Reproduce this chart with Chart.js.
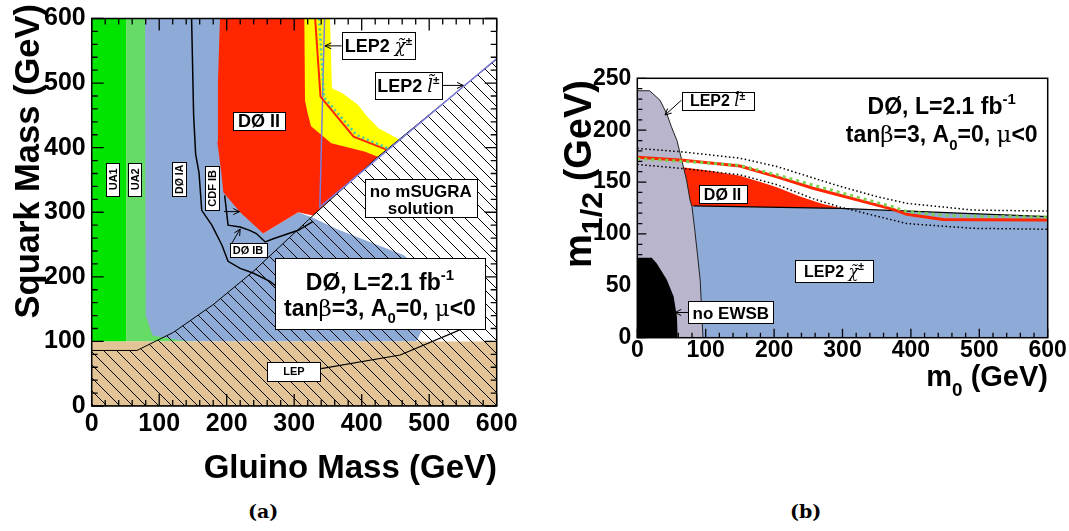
<!DOCTYPE html>
<html>
<head>
<meta charset="utf-8">
<script src="https://cdn.jsdelivr.net/npm/chart.js@4.4.1/dist/chart.umd.min.js"></script>
<style>
  body { margin: 0; background: #fff; width: 1069px; height: 531px; position: relative; overflow: hidden; }
  canvas { position: absolute; top: 0; }
  #ca { left: 0; }
  #cb { left: 540px; }
  .cap { position: absolute; top: 500px; font: bold 19px "DejaVu Serif", "Liberation Serif", serif; }
</style>
</head>
<body>
<canvas id="ca" width="530" height="490"></canvas>
<canvas id="cb" width="529" height="490"></canvas>
<div class="cap" style="left:248px">(a)</div>
<div class="cap" style="left:790px">(b)</div>
<script>
// ---- panel (a): squark vs gluino mass, regions as [gluino, squark] GeV ----
const lepBand = [[0, 0], [600, 0], [600, 100], [0, 100]];
const ua1Band = [[0, 100], [51, 100], [51, 600], [0, 600]];
const ua2Band = [[51, 100], [150, 100], [150, 600], [51, 600]];
const tevIRegion = [[79, 600], [200, 600], [200, 330], [254, 267], [306, 300], [327, 292], [363, 274], [412, 254],
  [462, 234], [490, 210], [500, 170], [495, 130], [481, 100], [150, 100], [130, 102], [90, 109], [80, 140]];
const d0IIRegion = [[190, 600], [331, 600], [339, 479], [388, 417], [437, 397], [422, 384], [328, 295], [306, 300],
  [254, 267], [220, 300], [195, 331], [192, 361], [186, 410], [187, 500]];
const expBandA = [[315, 600], [353, 600], [356, 492], [372, 484], [394, 467], [409, 447], [425, 430], [455, 413],
  [424, 386], [404, 394], [355, 407], [325, 433], [320, 453], [316, 473]];
const noSugraHatch = [[0, 0], [600, 0], [600, 537], [422, 384], [328, 295], [239, 208], [180, 157], [121, 114], [67, 86], [0, 86]];
const d0IALine = [[148, 600], [151, 450], [154, 390], [159, 361], [163, 303], [178, 280], [193, 249], [202, 224],
  [220, 213], [239, 206], [264, 193], [274, 185]];
const d0IBLine = [[197, 326], [202, 280], [220, 277], [234, 272], [244, 267], [257, 254], [269, 259], [306, 272], [328, 286]];
const lepLine = [[340, 58], [457, 79], [541, 116], [565, 128]];
const lep2LineA = [[345, 600], [338, 308], [600, 538]];
const obsA = [[331, 600], [339, 479], [388, 417], [437, 397]];
const expA = [[337, 600], [344, 478], [392, 420], [441, 398]];

// ---- panel (b): m1/2 vs m0, [m0, m1/2] GeV ----
const charginoRegion = [[0, 0], [0, 127], [82, 127], [296, 124.7], [600, 116.6], [600, 0]];
const d0IIRegionB = [[60, 163], [69, 164], [106, 161], [150, 156], [180, 150], [204, 145], [238, 136], [270, 129],
  [300, 124.5], [82, 127], [60, 127]];
const sleptonRegion = [[0, 0], [0, 238], [18, 238], [33, 229], [43, 216], [50, 203], [58, 190], [65, 171], [72, 152],
  [77, 133], [80, 126], [84, 104], [88, 80], [92, 55], [96, 0]];
const noEwsbRegion = [[0, 0], [0, 77], [21, 77], [28, 72], [43, 56], [53, 40], [58, 20], [59, 0]];
const charginoEdge = [[82, 127], [296, 124.7], [600, 116.6]];
const sigDownB = [[0, 167], [67, 163], [150, 157], [204, 147.5], [257, 134], [296, 126], [394, 110], [491, 105.4], [600, 104.5]];
const sigUpB = [[0, 182.5], [67, 179], [150, 173], [204, 165], [257, 154], [296, 146], [350, 136], [394, 129.5], [491, 123], [600, 122]];
const obsB = [[0, 174], [67, 171], [150, 165.5], [204, 155], [257, 144], [296, 137.3], [374, 123.7], [394, 119], [447, 114], [491, 113.7], [600, 113.4]];
const expB = [[0, 172.5], [67, 170], [150, 166], [204, 157], [257, 147], [296, 140], [374, 126], [394, 121.6], [447, 118], [491, 117], [600, 116.4]];

const SANS = '"Liberation Sans", Arial, Helvetica, sans-serif';
const SERIF = '"DejaVu Serif", "Liberation Serif", serif';

function pts(a) { return a.map(([x, y]) => ({ x, y })); }

function area(points, color, extra) {
  return Object.assign({
    type: 'line', data: pts(points), fill: 'shape', backgroundColor: color,
    borderColor: 'rgba(0,0,0,0)', borderWidth: 0, pointRadius: 0, tension: 0
  }, extra);
}

function curve(points, color, width, dash) {
  return {
    type: 'line', data: pts(points), fill: false, borderColor: color, borderWidth: width,
    borderDash: dash || [], pointRadius: 0, tension: 0
  };
}

// first entry ends up at the bottom
function stack(list) {
  list.forEach((d, i) => { d.order = list.length - i; });
  return list;
}

function hatch(ctx) {
  const s = 13, c = document.createElement('canvas');
  c.width = c.height = s;
  const g = c.getContext('2d');
  g.strokeStyle = '#000';
  g.lineWidth = 1;
  g.beginPath();
  g.moveTo(-1, -1); g.lineTo(s + 1, s + 1);
  g.moveTo(-1, s - 1); g.lineTo(1, s + 1);
  g.moveTo(s - 1, -1); g.lineTo(s + 1, 1);
  g.stroke();
  return ctx.createPattern(c, 'repeat');
}

function segFont(kind, size) {
  if (kind === 'sup' || kind === 'sub') return `bold ${size * 0.65}px ${SANS}`;
  if (kind === 'subL') return `bold ${size * 0.8}px ${SANS}`;
  if (kind === 'g') return `${size}px ${SERIF}`;
  if (kind === 'gi') return `italic ${size}px ${SERIF}`;
  return `bold ${size}px ${SANS}`;
}

// y is the middle of the capitals
function drawRich(ctx, segs, x, y, size, align) {
  let w = 0;
  const parts = segs.map(([t, k]) => {
    ctx.font = segFont(k, size);
    const m = ctx.measureText(t).width;
    w += m;
    return { t, k, m };
  });
  let cx = align === 'left' ? x : align === 'right' ? x - w : x - w / 2;
  const base = y + size * 0.36;
  ctx.textAlign = 'left';
  ctx.textBaseline = 'alphabetic';
  ctx.fillStyle = '#000';
  for (const p of parts) {
    ctx.font = segFont(p.k, size);
    let dy = 0;
    if (p.k === 'sup') dy = -size * 0.42;
    if (p.k === 'sub') dy = size * 0.32;
    if (p.k === 'subL') dy = size * 0.3;
    ctx.fillText(p.t, cx, base + dy);
    cx += p.m;
  }
}

function seg(ctx, x1, y1, x2, y2) {
  ctx.beginPath(); ctx.moveTo(x1, y1); ctx.lineTo(x2, y2); ctx.stroke();
}

// frame, inward ticks, boxes, arrows and titles; cfg kept in the closure
function decor(cfg) {
  return {
    id: 'decor',
    afterDraw(chart) {
      const { ctx, chartArea: a, scales: { x, y } } = chart;
      const px = v => x.getPixelForValue(v), py = v => y.getPixelForValue(v);
      const t = cfg.marks;
      ctx.save();
      ctx.setLineDash([]);
      ctx.globalAlpha = 1;
      ctx.strokeStyle = '#000';
      ctx.lineWidth = 1.3;
      ctx.beginPath();
      for (let i = 0; i <= 600 / t.dx; i++) {
        const v = i * t.dx;
        const len = v % t.dxMajor === 0 ? t.big : t.small;
        const p = px(v);
        ctx.moveTo(p, a.bottom); ctx.lineTo(p, a.bottom - len);
        if (t.allSides) { ctx.moveTo(p, a.top); ctx.lineTo(p, a.top + len); }
      }
      for (let i = 0; i <= t.ymax / t.dy; i++) {
        const v = i * t.dy;
        const len = v % t.dyMajor === 0 ? t.big : t.small;
        const p = py(v);
        ctx.moveTo(a.left, p); ctx.lineTo(a.left + len, p);
        if (t.allSides) { ctx.moveTo(a.right, p); ctx.lineTo(a.right - len, p); }
      }
      ctx.stroke();
      ctx.lineWidth = 1.5;
      ctx.strokeRect(a.left, a.top, a.right - a.left, a.bottom - a.top);

      ctx.lineWidth = 1;
      for (const [x1, y1, x2, y2] of cfg.arrows) {
        const X1 = px(x1), Y1 = py(y1), X2 = px(x2), Y2 = py(y2);
        seg(ctx, X1, Y1, X2, Y2);
        const ang = Math.atan2(Y2 - Y1, X2 - X1);
        for (const s of [-0.45, 0.45]) {
          seg(ctx, X2, Y2, X2 - 7 * Math.cos(ang + s), Y2 - 7 * Math.sin(ang + s));
        }
      }

      for (const b of cfg.boxes) {
        const cx = px(b.x), cy = py(b.y);
        const bx = Math.round(cx - b.w / 2) + 0.5, by = Math.round(cy - b.h / 2) + 0.5;
        ctx.fillStyle = '#fff';
        ctx.fillRect(bx, by, b.w, b.h);
        ctx.strokeStyle = '#000';
        ctx.lineWidth = 1;
        ctx.strokeRect(bx, by, b.w, b.h);
        ctx.save();
        ctx.translate(cx, cy);
        if (b.rot) ctx.rotate(-Math.PI / 2);
        for (const l of b.lines) drawRich(ctx, l.segs, 0, l.dy || 0, b.size, 'center');
        ctx.restore();
      }

      for (const l of cfg.texts) drawRich(ctx, l.segs, px(l.x), py(l.y), l.size, 'center');

      for (const l of cfg.titles) {
        ctx.save();
        ctx.translate(l.x, l.y);
        if (l.rot) ctx.rotate(-Math.PI / 2);
        drawRich(ctx, l.segs, 0, 0, l.size, 'right');
        ctx.restore();
      }
      ctx.restore();
    }
  };
}

function axes(o) {
  const font = { family: SANS, weight: 'bold', size: o.tickSize, lineHeight: 1 };
  return {
    x: {
      type: 'linear', min: 0, max: 600,
      afterFit: s => { s.height = o.xh; },
      ticks: { stepSize: 100, font, color: '#000', padding: o.xpad, maxRotation: 0, autoSkip: false },
      grid: { display: false, drawTicks: false }, border: { display: false }
    },
    y: {
      type: 'linear', min: 0, max: o.ymax,
      afterFit: s => { s.width = o.yw; },
      ticks: { stepSize: o.ystep, font, color: '#000', padding: o.ypad, autoSkip: false },
      grid: { display: false, drawTicks: false }, border: { display: false }
    }
  };
}

function makeChart(id, datasets, scales, padding, deco) {
  return new Chart(document.getElementById(id), {
    type: 'line',
    data: { datasets },
    options: {
      responsive: false, animation: false, devicePixelRatio: 1, events: [],
      layout: { padding },
      scales,
      plugins: { legend: { display: false }, tooltip: { enabled: false } }
    },
    plugins: [decor(deco)]
  });
}

const ctxA = document.getElementById('ca').getContext('2d');

makeChart('ca', stack([
  area(ua1Band, '#00e400'),
  area(ua2Band, '#66dc66'),
  area(tevIRegion, '#8eabd8'),
  area(d0IIRegion, '#ff2600'),
  area(expBandA, '#ffff00'),
  area(lepBand, '#e2c496'),
  area(noSugraHatch, hatch(ctxA), { borderColor: '#000', borderWidth: 1 }),
  curve(d0IALine, '#000', 1.5),
  curve(d0IBLine, '#000', 1.5),
  curve(lepLine, '#000', 1.2),
  curve(lep2LineA, '#7b7bdc', 1.5),
  curve(obsA, '#ff2600', 2),
  curve(expA, '#44c8a8', 2.5, [2, 3])
]), axes({ tickSize: 25, xh: 84, yw: 91.7, xpad: 6, ypad: 6, ymax: 600, ystep: 100 }),
{ left: 0, top: 13.5, right: 33.3, bottom: 0 },
{
  marks: { dx: 20, dxMajor: 100, dy: 20, dyMajor: 100, ymax: 600, big: 12, small: 6, allSides: true },
  arrows: [[370.4, 557.6, 345.6, 557.6], [518.5, 496.4, 550.5, 496.4], [196, 301, 219, 301], [207, 251, 220, 274]],
  boxes: [
    { x: 31, y: 351, w: 13, h: 33, rot: true, size: 11, lines: [{ segs: [['UA1']] }] },
    { x: 64, y: 351, w: 13, h: 33, rot: true, size: 11, lines: [{ segs: [['UA2']] }] },
    { x: 130, y: 351, w: 14, h: 34, rot: true, size: 10.5, lines: [{ segs: [['DØ IA']] }] },
    { x: 178, y: 337, w: 14, h: 44, rot: true, size: 11, lines: [{ segs: [['CDF IB']] }] },
    { x: 231.6, y: 241, w: 37, h: 14, size: 11, lines: [{ segs: [['DØ IB']] }] },
    { x: 248, y: 441.6, w: 52, h: 18, size: 18, lines: [{ segs: [['DØ II']] }] },
    { x: 424.7, y: 557.6, w: 73, h: 27, size: 18, lines: [{ segs: [['LEP2 '], ['χ̃', 'gi'], ['±', 'sup']] }] },
    { x: 469, y: 496.4, w: 67, h: 27, size: 18, lines: [{ segs: [['LEP2 '], ['l̃', 'gi'], ['±', 'sup']] }] },
    { x: 487.6, y: 321.7, w: 112, h: 38, size: 17, lines: [{ segs: [['no mSUGRA']], dy: -7 }, { segs: [['solution']], dy: 10 }] },
    { x: 427, y: 173.7, w: 210, h: 71, size: 23, lines: [
      { segs: [['DØ, L=2.1 fb'], ['-1', 'sup']], dy: -12.5 },
      { segs: [['tan'], ['β', 'g'], ['=3, A'], ['0', 'sub'], ['=0, '], ['μ', 'g'], ['<0']], dy: 13.5 }
    ] },
    { x: 299.7, y: 54, w: 53, h: 19, size: 11, lines: [{ segs: [['LEP']] }] }
  ],
  texts: [],
  titles: [
    { segs: [['Gluino Mass (GeV)']], x: 497, y: 466, size: 33 },
    { segs: [['Squark Mass (GeV)']], x: 27, y: 4, size: 34.5, rot: true }
  ]
});

makeChart('cb', stack([
  area(charginoRegion, '#8eabd8'),
  area(d0IIRegionB, '#ff2600'),
  area(sleptonRegion, '#b8b5cc', { borderColor: '#222', borderWidth: 1 }),
  area(noEwsbRegion, '#000'),
  curve(charginoEdge, '#000', 1.2),
  curve(sigDownB, '#000', 1.5, [1.5, 2.5]),
  curve(sigUpB, '#000', 1.5, [1.5, 2.5]),
  curve(obsB, '#ff2600', 3),
  curve(expB, '#7cd04e', 3, [3, 4])
]), axes({ tickSize: 23, xh: 152.3, yw: 97.3, xpad: 1, ypad: 6, ymax: 250, ystep: 50 }),
{ left: 0, top: 78.3, right: 21.3, bottom: 0 },
{
  marks: { dx: 20, dxMajor: 100, dy: 10, dyMajor: 50, ymax: 250, big: 9, small: 5, allSides: false },
  arrows: [[64.5, 228.9, 40.5, 214.6], [74.6, 24.3, 55, 24.3]],
  boxes: [
    { x: 117.3, y: 228.6, w: 72, h: 18, size: 16, lines: [{ segs: [['LEP2 '], ['l̃', 'gi'], ['±', 'sup']] }] },
    { x: 124.6, y: 138.5, w: 48, h: 18, size: 16, lines: [{ segs: [['DØ II']] }] },
    { x: 287.6, y: 64.3, w: 78, h: 22, size: 16, lines: [{ segs: [['LEP2 '], ['χ̃', 'gi'], ['±', 'sup']] }] },
    { x: 136.7, y: 24.3, w: 85, h: 22, size: 17, lines: [{ segs: [['no EWSB']] }] }
  ],
  texts: [
    { segs: [['DØ, L=2.1 fb'], ['-1', 'sup']], x: 445, y: 223.5, size: 23 },
    { segs: [['tan'], ['β', 'g'], ['=3, A'], ['0', 'sub'], ['=0, '], ['μ', 'g'], ['<0']], x: 445, y: 196.3, size: 23 }
  ],
  titles: [
    { segs: [['m'], ['0', 'sub'], [' (GeV)']], x: 508, y: 376, size: 29 },
    { segs: [['m'], ['1/2', 'subL'], [' (GeV)']], x: 37, y: 80, size: 38, rot: true }
  ]
});
</script>
</body>
</html>
